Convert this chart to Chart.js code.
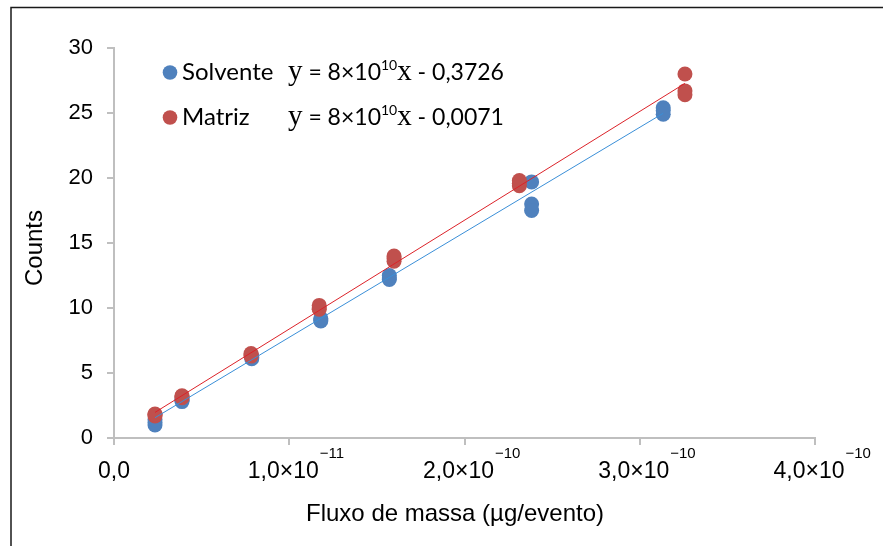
<!DOCTYPE html>
<html>
<head>
<meta charset="utf-8">
<script src="https://cdn.jsdelivr.net/npm/chart.js@4.4.1/dist/chart.umd.min.js"></script>
<style>
  body { margin: 0; background: #fff; }
  canvas { display: block; }
</style>
</head>
<body>
<canvas id="fluxChart" width="883" height="546"></canvas>
<script>
// Solvente points (x in µg/evento, y in counts)
const solventeX = [2.34e-11, 2.34e-11, 2.34e-11, 3.88e-11, 3.88e-11, 3.88e-11,
                   7.86e-11, 7.86e-11, 7.86e-11, 1.18e-10, 1.18e-10, 1.18e-10,
                   1.571e-10, 1.571e-10, 1.571e-10, 2.383e-10, 2.383e-10, 2.383e-10,
                   3.134e-10, 3.134e-10, 3.134e-10];
const solventeY = [1.0, 1.2, 1.4, 2.8, 2.9, 3.0,
                   6.1, 6.2, 6.3, 9.0, 9.1, 9.2,
                   12.2, 12.3, 12.5, 19.7, 18.0, 17.5,
                   25.4, 25.2, 24.9];

// Matriz points
const matrizX = [2.34e-11, 2.34e-11, 2.34e-11, 3.88e-11, 3.88e-11, 3.88e-11,
                 7.82e-11, 7.82e-11, 7.82e-11, 1.171e-10, 1.171e-10, 1.171e-10,
                 1.598e-10, 1.598e-10, 1.598e-10, 2.313e-10, 2.313e-10, 2.313e-10,
                 3.258e-10, 3.258e-10, 3.258e-10];
const matrizY = [1.7, 1.8, 1.85, 3.1, 3.2, 3.25,
                 6.3, 6.4, 6.5, 9.9, 10.0, 10.2,
                 13.6, 13.8, 14.0, 19.4, 19.6, 19.8,
                 28.0, 26.7, 26.4];

// Trend line end points
const solventeFitX = [2.34e-11, 3.134e-10];
const solventeFitY = [1.56, 24.98];
const matrizFitX = [2.34e-11, 3.258e-10];
const matrizFitY = [1.97, 27.28];

// Axis ticks
const yTicks = [0, 5, 10, 15, 20, 25, 30];
const xTickValues = [0, 1e-10, 2e-10, 3e-10, 4e-10];
const xTickMain = ['0,0', '1,0×10', '2,0×10', '3,0×10', '4,0×10'];
const xTickExp = ['', '−11', '−10', '−10', '−10'];

// Legend rows
const legendNames = ['Solvente', 'Matriz'];
const legendConst = [' - 0,3726', ' - 0,0071'];

const blue = '#4f81bd';
const red = '#c0504d';
const sansFont = '"Liberation Sans", Arial, sans-serif';
const legendFont = 'Lato, "Open Sans", sans-serif';
const serifFont = '"Liberation Serif", "DejaVu Serif", serif';

function toPoints(xs, ys) {
    return xs.map((x, i) => ({ x: x, y: ys[i] }));
}

// Draws frame, x tick labels, axis titles and the legend
const decorPlugin = {
    id: 'decor',
    beforeDraw(chart) {
        const ctx = chart.ctx;
        ctx.save();
        ctx.fillStyle = '#fff';
        ctx.fillRect(0, 0, chart.width, chart.height);
        ctx.restore();
    },
    afterDraw(chart) {
        const ctx = chart.ctx;
        const xs = chart.scales.x;
        const area = chart.chartArea;
        ctx.save();

        // outer frame (only top and left edges show)
        ctx.strokeStyle = '#1a1a1a';
        ctx.lineWidth = 1.5;
        ctx.beginPath();
        ctx.moveTo(chart.width, 7.5);
        ctx.lineTo(11, 7.5);
        ctx.lineTo(11, chart.height);
        ctx.stroke();

        // x tick labels with exponents
        ctx.fillStyle = '#000';
        ctx.textBaseline = 'alphabetic';
        xTickValues.forEach((v, i) => {
            const px = xs.getPixelForValue(v);
            ctx.font = '23px ' + sansFont;
            ctx.textAlign = 'center';
            const w = ctx.measureText(xTickMain[i]).width;
            const cx = i === 0 ? px : px - 6;
            ctx.fillText(xTickMain[i], cx, area.bottom + 40);
            if (xTickExp[i]) {
                ctx.font = '15px ' + sansFont;
                ctx.textAlign = 'left';
                ctx.fillText(xTickExp[i], cx + w / 2 + 1, area.bottom + 20);
            }
        });

        // axis titles
        ctx.font = '24px ' + sansFont;
        ctx.textAlign = 'center';
        ctx.fillText('Fluxo de massa (µg/evento)', 455, 521);
        ctx.save();
        ctx.translate(42, 248);
        ctx.rotate(-Math.PI / 2);
        ctx.fillText('Counts', 0, 0);
        ctx.restore();

        // legend with trend line equations
        const colors = [blue, red];
        const rowY = [79.5, 124.5];
        legendNames.forEach((name, i) => {
            const y = rowY[i];
            ctx.fillStyle = colors[i];
            ctx.beginPath();
            ctx.arc(170, y - 7, 7.3, 0, Math.PI * 2);
            ctx.fill();

            ctx.fillStyle = '#000';
            ctx.textAlign = 'left';
            ctx.font = '24px ' + legendFont;
            ctx.fillText(name, 182, y);

            let x = 288;
            const parts = [
                { t: 'y', f: '29px ' + serifFont, dy: 0 },
                { t: ' = 8×10', f: '23px ' + legendFont, dy: 0 },
                { t: '10', f: '14px ' + legendFont, dy: -10 },
                { t: 'x', f: '29px ' + serifFont, dy: 0 },
                { t: legendConst[i], f: '23px ' + legendFont, dy: 0 }
            ];
            parts.forEach(p => {
                ctx.font = p.f;
                ctx.fillText(p.t, x, y + p.dy);
                x += ctx.measureText(p.t).width;
            });
        });

        ctx.restore();
    }
};

const axisGrid = {
    drawOnChartArea: false,
    drawTicks: true,
    tickLength: 7,
    color: '#bfbfbf',
    lineWidth: 2
};

const canvas = document.getElementById('fluxChart');
const ctx = canvas.getContext('2d');

new Chart(ctx, {
    type: 'scatter',
    data: {
        datasets: [
            {
                label: 'Solvente tendência',
                data: toPoints(solventeFitX, solventeFitY),
                showLine: true,
                borderColor: '#3a8fd8',
                borderWidth: 1,
                pointRadius: 0,
                order: 0
            },
            {
                label: 'Matriz tendência',
                data: toPoints(matrizFitX, matrizFitY),
                showLine: true,
                borderColor: '#dc2229',
                borderWidth: 1,
                pointRadius: 0,
                order: 0
            },
            {
                label: 'Solvente',
                data: toPoints(solventeX, solventeY),
                backgroundColor: blue,
                borderWidth: 0,
                pointRadius: 7.5,
                order: 2
            },
            {
                label: 'Matriz',
                data: toPoints(matrizX, matrizY),
                backgroundColor: red,
                borderWidth: 0,
                pointRadius: 7.5,
                order: 1
            }
        ]
    },
    options: {
        responsive: false,
        animation: false,
        layout: { padding: { left: 0, top: 48, right: 68, bottom: 0 } },
        plugins: {
            legend: { display: false },
            tooltip: { enabled: false }
        },
        scales: {
            x: {
                type: 'linear',
                min: 0,
                max: 4e-10,
                ticks: { display: false, stepSize: 1e-10 },
                grid: axisGrid,
                border: { color: '#bfbfbf', width: 2 },
                afterFit: function(scale) { scale.height = 108; }
            },
            y: {
                min: 0,
                max: 30,
                afterBuildTicks: function(scale) {
                    scale.ticks = yTicks.map(v => ({ value: v }));
                },
                ticks: {
                    color: '#000',
                    padding: 14,
                    font: { family: sansFont, size: 22 }
                },
                grid: axisGrid,
                border: { color: '#bfbfbf', width: 2 },
                afterFit: function(scale) { scale.width = 114; }
            }
        }
    },
    plugins: [decorPlugin]
});
</script>
</body>
</html>
